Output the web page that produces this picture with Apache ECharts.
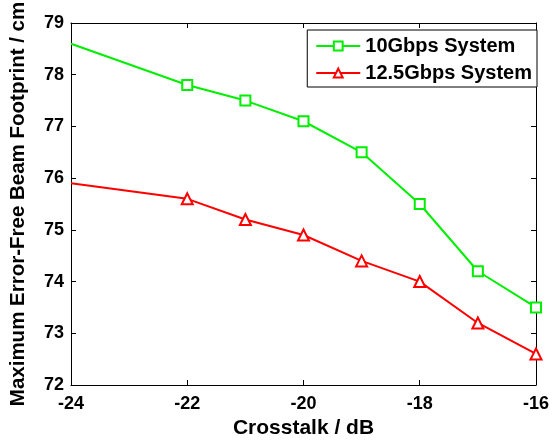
<!DOCTYPE html>
<html>
<head>
<meta charset="utf-8">
<script src="https://cdn.jsdelivr.net/npm/echarts@6/dist/echarts.min.js"></script>
<style>html,body{margin:0;padding:0;background:#fff}#c{width:552px;height:444px}</style>
</head>
<body>
<div id="c"></div>
<script>
const crosstalk = [-24, -22, -21, -20, -19, -18, -17, -16];
const sys10 = [78.6, 77.8, 77.5, 77.1, 76.5, 75.5, 74.2, 73.5];
const sys125 = [75.9, 75.6, 75.2, 74.9, 74.4, 74.0, 73.2, 72.6];
const seriesNames = ['10Gbps System', '12.5Gbps System'];
const xTicks = [-24, -22, -20, -18, -16];
const yTicks = [72, 73, 74, 75, 76, 77, 78, 79];

const font = 'Liberation Sans, Arial, sans-serif';
function pts(vals) {
  return crosstalk.map((x, i) => i === 0 ? {value: [x, vals[i]], symbol: 'none'} : [x, vals[i]]);
}
const chart = echarts.init(document.getElementById('c'), null, {renderer: 'canvas'});
const axisCommon = {
  axisLine: {show: true, lineStyle: {color: '#000', width: 1}},
  axisTick: {show: true, inside: true, length: 5, lineStyle: {color: '#000'}},
  splitLine: {show: false}
};
chart.setOption({
  animation: false,
  backgroundColor: '#fff',
  grid: {left: 70, right: 9, top: 23, bottom: 52, containLabel: false},
  legend: {
    orient: 'vertical', right: 15, top: 30,
    data: seriesNames,
    borderColor: '#000', borderWidth: 1, borderRadius: 0,
    padding: [6, 5, 4, 8], itemGap: 7,
    itemWidth: 44, itemHeight: 11,
    backgroundColor: '#fff',
    textStyle: {fontFamily: font, fontWeight: 'bold', fontSize: 20, color: '#000', lineHeight: 20}
  },
  xAxis: [
    Object.assign({}, axisCommon, {
      type: 'value', min: -24, max: -16, interval: 2, position: 'bottom',
      name: 'Crosstalk / dB', nameLocation: 'middle', nameGap: 33,
      nameTextStyle: {fontFamily: font, fontWeight: 'bold', fontSize: 21, color: '#000'},
      axisLabel: {fontFamily: font, fontWeight: 'bold', fontSize: 18, color: '#000', margin: 10,
        formatter: v => xTicks.includes(v) ? String(v) : ''}
    }),
    Object.assign({}, axisCommon, {
      type: 'value', min: -24, max: -16, interval: 2, position: 'top', axisLabel: {show: false}
    })
  ],
  yAxis: [
    Object.assign({}, axisCommon, {
      type: 'value', min: 72, max: 79, interval: 1, position: 'left',
      name: 'Maximum Error-Free Beam Footprint / cm', nameLocation: 'middle', nameGap: 42,
      nameTextStyle: {fontFamily: font, fontWeight: 'bold', fontSize: 20.5, color: '#000'},
      axisLabel: {fontFamily: font, fontWeight: 'bold', fontSize: 18, color: '#000', margin: 7,
        formatter: v => yTicks.includes(v) ? String(v) : ''}
    }),
    Object.assign({}, axisCommon, {
      type: 'value', min: 72, max: 79, interval: 1, position: 'right', axisLabel: {show: false}
    })
  ],
  series: [
    {
      name: seriesNames[0], type: 'line', data: pts(sys10),
      xAxisIndex: 0, yAxisIndex: 0,
      symbol: 'rect', symbolSize: 10, showAllSymbol: true,
      lineStyle: {color: '#00ee00', width: 2},
      itemStyle: {color: '#fff', borderColor: '#00ee00', borderWidth: 2},
      emphasis: {disabled: true}
    },
    {
      name: seriesNames[1], type: 'line', data: pts(sys125),
      xAxisIndex: 0, yAxisIndex: 0,
      symbol: 'triangle', symbolSize: 11, showAllSymbol: true,
      lineStyle: {color: '#ff0000', width: 2},
      itemStyle: {color: '#fff', borderColor: '#ff0000', borderWidth: 2},
      emphasis: {disabled: true}
    }
  ]
});
</script>
</body>
</html>
